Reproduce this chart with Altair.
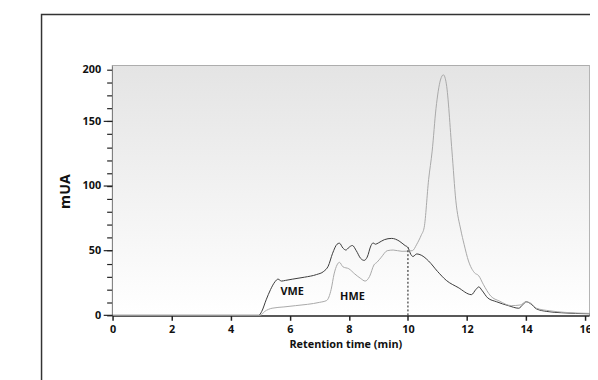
import altair as alt
import pandas as pd

# VME (dark) trace
vme_t = [0, 4.95, 5.05, 5.2, 5.35, 5.5, 5.6, 5.72, 5.85, 6.1, 6.5, 6.9, 7.15, 7.3, 7.45, 7.6, 7.68,
         7.8, 7.9, 8.0, 8.12, 8.25, 8.4, 8.52, 8.62, 8.75, 8.82, 8.9, 9.0, 9.2, 9.45, 9.7, 9.9, 10.0,
         10.1, 10.17, 10.3, 10.45, 10.7, 11.0, 11.3, 11.7, 12.15, 12.3, 12.4, 12.5, 12.7, 13.0, 13.4,
         13.75, 13.9, 14.0, 14.15, 14.35, 14.7, 15.2, 16.15]
vme_v = [0, 0, 3, 12, 20, 26, 28, 26.5, 27, 28, 29.5, 31.5, 34, 38, 48, 55, 55.8,
         52, 50.5, 52.5, 54, 50, 44, 42.5, 45, 54, 56, 55, 56, 58.5, 59.5, 57.5, 54, 52.5,
         47, 45.5, 47.5, 46.5, 42, 34, 27, 21.5, 16, 20, 22, 19.5, 13.5, 10.5, 7.5,
         5.5, 8.5, 10.5, 9, 5, 3, 2, 1.2]

# HME (light) trace
hme_t = [0, 5.0, 5.15, 5.4, 5.8, 6.2, 6.6, 7.0, 7.25, 7.4, 7.5, 7.6, 7.68, 7.8, 8.0, 8.2, 8.4, 8.55,
         8.7, 8.85, 8.95, 9.1, 9.3, 9.5, 9.8, 10.15, 10.3, 10.45, 10.55, 10.7, 10.82, 10.95, 11.1,
         11.2, 11.3, 11.49, 11.62, 11.79, 11.9, 12.05, 12.25, 12.4, 12.55, 12.8, 13.1, 13.5, 13.8,
         14.0, 14.15, 14.35, 14.8, 15.3, 16.15]
hme_v = [0, 0, 3, 5.5, 6.5, 7.5, 8.5, 10, 11.5, 20, 32, 39, 41, 37.5, 36, 32, 28.5, 26.5,
         30, 39, 41, 45, 50, 50.5, 49.5, 50, 55, 62, 68, 105, 127, 160, 182,
         186, 179, 127, 89, 66, 55, 42, 33, 30.5, 24, 15, 11, 7.5, 8,
         10.5, 9.5, 5.5, 3.5, 2.3, 1.5]

label_text = ["VME", "HME"]
label_t = [6.08, 8.12]
label_v = [18.3, 14.5]

marker_t = [10.0]
marker_v = [52.5]

x_ticks = [0, 2, 4, 6, 8, 10, 12, 14, 16]
y_ticks = list(range(0, 200, 10))
y_major = [0, 50, 100, 150]

df = pd.concat([
    pd.DataFrame({"t": vme_t, "v": vme_v, "s": "VME"}),
    pd.DataFrame({"t": hme_t, "v": hme_v, "s": "HME"}),
])
labels = pd.DataFrame({"t": label_t, "v": label_v, "label": label_text})
marker = pd.DataFrame({"t": marker_t, "v": [0] * len(marker_t), "v2": marker_v})
major = pd.DataFrame({"v": y_major})

W, H = 483, 253
FONT = "Open Sans"

xscale = alt.Scale(domain=[0, 16.13], nice=False, zero=False)
yscale = alt.Scale(domain=[0, 193], nice=False)

bg = alt.Chart(alt.Data(values=[{}])).mark_rect(
    color=alt.LinearGradient(
        gradient="linear",
        stops=[alt.GradientStop(color="#e4e4e4", offset=0),
               alt.GradientStop(color="#ffffff", offset=1)],
        x1=0, x2=0, y1=0, y2=1,
    )
).encode(x=alt.value(0), x2=alt.value(W), y=alt.value(0), y2=alt.value(H))

frame = alt.Chart(alt.Data(values=[{}])).mark_rect(
    filled=False, stroke="#333333", strokeWidth=1.5
).encode(x=alt.value(-72), x2=alt.value(620), y=alt.value(-52), y2=alt.value(420))

lines = alt.Chart(df).mark_line(strokeWidth=1.0, interpolate="monotone").encode(
    x=alt.X("t:Q", scale=xscale,
            axis=alt.Axis(values=x_ticks, tickCount=20, title="Retention time (min)", grid=False,
                          domainColor="#222222", domainWidth=2, tickColor="#222222",
                          tickWidth=1.5, tickSize=5, labelFont=FONT, labelFontWeight="bold",
                          labelFontSize=11, labelColor="#111111", labelPadding=3,
                          labelOverlap=False,
                          titleFont=FONT, titleFontWeight="bold", titleFontSize=11,
                          titleColor="#111111", titleX=236, titleY=30,
                          titleBaseline="middle", titleAlign="center", labelFlush=False)),
    y=alt.Y("v:Q", scale=yscale,
            axis=alt.Axis(values=y_ticks, tickCount=40, title="mUA", grid=False,
                          domainColor="#222222", domainWidth=2, tickColor="#222222",
                          tickWidth=1.2, tickSize=6,
                          labelExpr="datum.value == 190 ? '200' : (datum.value % 50 == 0 ? datum.label : '')",
                          labelOverlap=False, labelFlush=False,
                          labelFont=FONT, labelFontWeight="bold", labelFontSize=11,
                          labelColor="#111111", labelPadding=6,
                          titleFont=FONT, titleFontWeight="bold", titleFontSize=14.5,
                          titleColor="#111111", titleX=-48, titleY=127,
                          titleBaseline="middle", titleAlign="center", titleAngle=270)),
    color=alt.Color("s:N", scale=alt.Scale(domain=["VME", "HME"], range=["#3a3a3a", "#a8a8a8"]),
                    legend=None),
    detail="s:N",
)

major_ticks = alt.Chart(major).mark_rule(color="#222222", strokeWidth=1.2).encode(
    x=alt.value(-9), x2=alt.value(0), y="v:Q"
)

rule = alt.Chart(marker).mark_rule(color="#111111", strokeWidth=1, strokeDash=[2, 2]).encode(
    x="t:Q", y="v:Q", y2="v2:Q"
)

text = alt.Chart(labels).mark_text(font=FONT, fontWeight="bold", fontSize=11,
                                    color="#111111").encode(
    x="t:Q", y="v:Q", text="label:N"
)

chart = alt.layer(frame, bg, lines, major_ticks, rule, text).properties(
    width=W, height=H,
    padding={"left": 106, "top": 56, "right": 1, "bottom": 63},
    autosize=alt.AutoSizeParams(type="none"),
).configure_view(stroke="#9a9a9a", strokeWidth=1.5)

chart.save("out.html", embed_options={"renderer": "svg", "actions": False})
